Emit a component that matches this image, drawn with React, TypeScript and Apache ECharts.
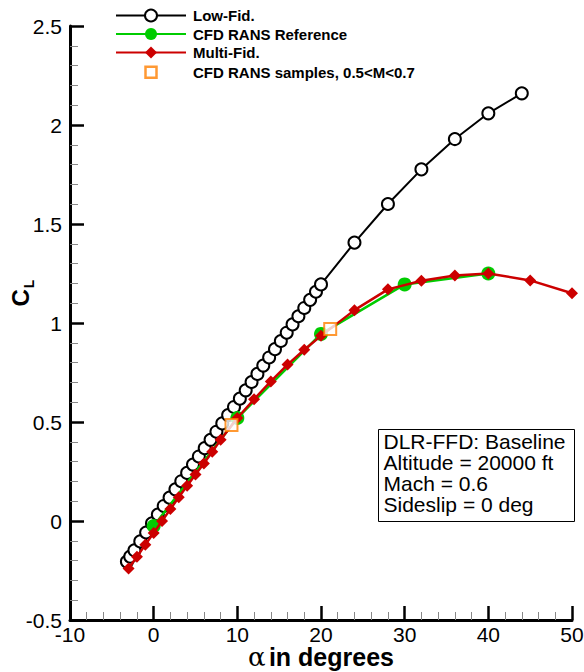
import React, { useEffect, useRef } from "react";
import * as echarts from "echarts";

// Low-fidelity model (open black circles)
const lowAlpha = [
  -3.2, -2.8, -2.3, -1.6, -0.9, -0.2, 0.5, 1.2, 1.9, 2.6, 3.3, 4.0, 4.7, 5.4, 6.1, 6.8,
  7.5, 8.2, 8.9, 9.6, 10.3, 11.0, 11.7, 12.4, 13.1, 13.8, 14.5, 15.2, 15.9, 16.6, 17.3,
  18.0, 18.7, 19.4, 20.0, 24, 28, 32, 36, 40, 44,
];
const lowCL = [
  -0.205, -0.18, -0.148, -0.103, -0.058, -0.012, 0.033, 0.076, 0.118, 0.16, 0.201, 0.243,
  0.285, 0.326, 0.368, 0.41, 0.451, 0.493, 0.535, 0.576, 0.618, 0.66, 0.702, 0.743, 0.785,
  0.826, 0.868, 0.909, 0.951, 0.993, 1.034, 1.076, 1.117, 1.158, 1.195, 1.406, 1.601, 1.776,
  1.929, 2.059, 2.16,
];

// CFD RANS reference (filled green circles)
const cfdAlpha = [0, 10, 20, 30, 40];
const cfdCL = [-0.025, 0.52, 0.945, 1.195, 1.25];

// Multi-fidelity model (red diamonds)
const mfAlpha = [-3, -2, -1, 0, 1, 2, 3, 4, 5, 6, 7, 8, 10, 12, 14, 16, 18, 20, 24, 28, 32, 36, 40, 45, 50];
const mfCL = [
  -0.24, -0.18, -0.12, -0.06, 0.0, 0.06, 0.12, 0.178, 0.235, 0.29, 0.35, 0.41, 0.52, 0.615,
  0.705, 0.79, 0.865, 0.935, 1.065, 1.17, 1.213, 1.24, 1.25, 1.215, 1.15,
];

// CFD RANS samples (orange open squares)
const sampleAlpha = [9.3, 21.1];
const sampleCL = [0.485, 0.97];

// Axis ticks
const xMin = -10;
const xMax = 50;
const xStep = 10;
const yMin = -0.5;
const yMax = 2.5;
const yStep = 0.5;

const infoLines = ["DLR-FFD: Baseline", "Altitude = 20000 ft", "Mach = 0.6", "Sideslip = 0 deg"];

const FONT = "'Liberation Sans', Arial, Helvetica, sans-serif";
const GREEN = "#00cc00";
const RED = "#cc0000";
const ORANGE = "#ff8000";

const pairs = (xs: number[], ys: number[]) => xs.map((x, i) => [x, ys[i]]);

export default function App() {
  const ref = useRef<HTMLDivElement>(null);

  useEffect(() => {
    document.body.style.margin = "0";
    if (!ref.current) return;
    const chart = echarts.init(ref.current, null, { renderer: "svg" });

    const axisCommon = {
      type: "value" as const,
      axisLine: { show: true, onZero: false, lineStyle: { color: "#000", width: 3 } },
      axisTick: { show: true, inside: true, length: 14, lineStyle: { color: "#000", width: 2.5 } },
      minorTick: { show: true, splitNumber: 5, length: 8, lineStyle: { color: "#888", width: 1 } },
      splitLine: { show: false },
      minorSplitLine: { show: false },
      nameMoveOverlap: false,
    };

    chart.setOption({
      animation: false,
      backgroundColor: "#fff",
      grid: { left: 70, right: 12, top: 26, bottom: 52, containLabel: false, outerBoundsMode: "none" },
      legend: {
        orient: "vertical",
        left: 110,
        top: 3,
        itemWidth: 70,
        itemHeight: 15,
        itemGap: 3.5,
        textStyle: { fontFamily: FONT, fontSize: 15, fontWeight: "bold", color: "#000", padding: [0, 0, 0, 2] },
        data: [
          "Low-Fid.",
          "CFD RANS Reference",
          "Multi-Fid.",
          {
            name: "CFD RANS samples, 0.5<M<0.7",
            icon: "path://M0,0M15,15M2,2H13V13H2Z",
            itemStyle: { color: "#fff", borderColor: ORANGE, borderWidth: 2.5 },
          },
        ],
      },
      xAxis: {
        ...axisCommon,
        min: xMin,
        max: xMax,
        interval: xStep,
        axisLabel: { fontFamily: FONT, fontSize: 21, lineHeight: 20, color: "#000", margin: 4 },
        name: "{a|α} {b|in degrees}",
        nameLocation: "middle",
        nameGap: 25,
        nameTextStyle: {
          rich: {
            a: { fontFamily: "'DejaVu Serif', serif", fontSize: 26, color: "#000", lineHeight: 24 },
            b: { fontFamily: FONT, fontSize: 25, fontWeight: "bold", color: "#000", lineHeight: 24 },
          },
        },
      },
      yAxis: {
        ...axisCommon,
        min: yMin,
        max: yMax,
        interval: yStep,
        axisLabel: { fontFamily: FONT, fontSize: 21, color: "#000", margin: 8 },
        name: "{c|C}{l|L}",
        nameLocation: "middle",
        nameRotate: 90,
        nameGap: 34,
        nameTextStyle: {
          padding: [0, 0, 0, 60],
          rich: {
            c: { fontFamily: FONT, fontSize: 24, fontWeight: "bold", color: "#000", verticalAlign: "top", lineHeight: 24 },
            l: { fontFamily: FONT, fontSize: 14, fontWeight: "bold", color: "#000", verticalAlign: "bottom", padding: [14, 0, 0, 1] },
          },
        },
      },
      series: [
        {
          name: "Low-Fid.",
          type: "line",
          data: pairs(lowAlpha, lowCL),
          symbol: "emptyCircle",
          symbolSize: 12,
          lineStyle: { color: "#000", width: 2 },
          itemStyle: { color: "#000", borderColor: "#000", borderWidth: 2 },
          z: 2,
        },
        {
          name: "CFD RANS Reference",
          type: "line",
          data: pairs(cfdAlpha, cfdCL),
          symbol: "circle",
          symbolSize: 14,
          lineStyle: { color: GREEN, width: 2.5 },
          itemStyle: { color: GREEN },
          z: 3,
        },
        {
          name: "Multi-Fid.",
          type: "line",
          data: pairs(mfAlpha, mfCL),
          symbol: "diamond",
          symbolSize: 12,
          lineStyle: { color: RED, width: 2.5 },
          itemStyle: { color: RED },
          z: 4,
        },
        {
          name: "CFD RANS samples, 0.5<M<0.7",
          type: "scatter",
          data: pairs(sampleAlpha, sampleCL),
          symbol: "emptyRect",
          symbolSize: 12,
          itemStyle: { color: ORANGE, borderColor: ORANGE, borderWidth: 2.5 },
          z: 5,
        },
      ],
      graphic: [
        {
          type: "group",
          left: 378,
          top: 429,
          children: [
            {
              type: "rect",
              shape: { x: 0, y: 0, width: 196, height: 92 },
              style: { fill: "#fff", stroke: "#000", lineWidth: 1 },
            },
            {
              type: "text",
              x: 5,
              y: 1,
              style: {
                text: infoLines.join("\n"),
                font: `21px ${FONT}`,
                lineHeight: 21,
                fill: "#000",
              },
            },
          ],
        },
      ],
    });

    return () => chart.dispose();
  }, []);

  return <div ref={ref} style={{ width: 584, height: 672 }} />;
}
